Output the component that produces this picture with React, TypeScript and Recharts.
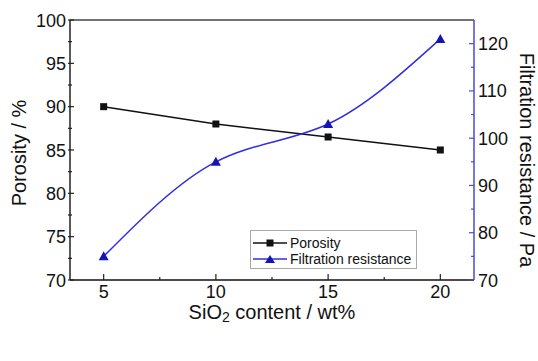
import React from 'react';
import { LineChart, Line, XAxis, YAxis, ReferenceLine, Legend } from 'recharts';

const sio2 = [5, 10, 15, 20];
const porosity = [90, 88, 86.5, 85];
const resistance = [75, 95, 103, 121];
const xTicks = [5, 7.5, 10, 12.5, 15, 17.5, 20];
const leftTicks = [70, 72.5, 75, 77.5, 80, 82.5, 85, 87.5, 90, 92.5, 95, 97.5, 100];
const rightTicks = [70, 75, 80, 85, 90, 95, 100, 105, 110, 115, 120];

const data = sio2.map((x, i) => ({ x, porosity: porosity[i], resistance: resistance[i] }));

const FONT = 'Liberation Sans, Arial, sans-serif';
const BLUE_AXIS = '#4a4ad2';
const BLUE_LINE = '#2f2fe0';
const BLUE_MARK = '#1414b4';

const XTick = (props: any) => {
  const { x, y, payload } = props;
  const v = payload.value;
  const major = Number.isInteger(v);
  return (
    <g>
      <line x1={x} x2={x} y1={y} y2={y - (major ? 6 : 3)} stroke="#222" strokeWidth={1.2} />
      {major && (
        <text x={x} y={y + 18} textAnchor="middle" fontFamily={FONT} fontSize={18} fill="#111">
          {v}
        </text>
      )}
    </g>
  );
};

const LeftTick = (props: any) => {
  const { x, y, payload } = props;
  const v = payload.value;
  const major = v % 5 === 0;
  return (
    <g>
      <line x1={x - 2} x2={x + (major ? 4 : 2)} y1={y} y2={y} stroke="#222" strokeWidth={1.2} />
      {major && (
        <text x={x - 4} y={y + 6.5} textAnchor="end" fontFamily={FONT} fontSize={18} fill="#111">
          {v}
        </text>
      )}
    </g>
  );
};

const RightTick = (props: any) => {
  const { x, y, payload } = props;
  const v = payload.value;
  const major = v % 10 === 0;
  return (
    <g>
      <line x1={x - (major ? 5 : 3)} x2={x} y1={y} y2={y} stroke={BLUE_AXIS} strokeWidth={1.2} />
      {major && (
        <text x={x + 4} y={y + 6.5} textAnchor="start" fontFamily={FONT} fontSize={18} fill="#111">
          {v}
        </text>
      )}
    </g>
  );
};

const SquareDot = (props: any) => {
  const { cx, cy } = props;
  if (cx == null || cy == null) return null;
  return <rect x={cx - 3.5} y={cy - 3.5} width={7} height={7} fill="#111" />;
};

const TriDot = (props: any) => {
  const { cx, cy } = props;
  if (cx == null || cy == null) return null;
  return <path d={`M${cx},${cy - 5} L${cx + 5},${cy + 4} L${cx - 5},${cy + 4} Z`} fill={BLUE_MARK} />;
};

const LegendBox = () => (
  <svg width={167} height={39} style={{ display: 'block' }}>
    <rect x={0.5} y={0.5} width={166} height={38} fill="#fff" stroke="#aaa" strokeWidth={1} />
    <line x1={3} x2={37} y1={13} y2={13} stroke="#111" strokeWidth={1.5} />
    <rect x={16.5} y={9.5} width={7} height={7} fill="#111" />
    <text x={40} y={18} fontFamily={FONT} fontSize={14} fill="#111">Porosity</text>
    <line x1={3} x2={37} y1={29} y2={29} stroke={BLUE_LINE} strokeWidth={1.5} />
    <path d="M20,25 L25,33 L15,33 Z" fill={BLUE_MARK} />
    <text x={40} y={34} fontFamily={FONT} fontSize={14} fill="#111">Filtration resistance</text>
  </svg>
);

const LeftTitle = (props: any) => {
  const vb = props.viewBox;
  const cx = vb.x + 19;
  const cy = vb.y + vb.height / 2 + 3;
  return (
    <text x={cx} y={cy} transform={`rotate(-90, ${cx}, ${cy})`} textAnchor="middle" dominantBaseline="central" fontFamily={FONT} fontSize={20} fill="#111">
      Porosity / %
    </text>
  );
};

const RightTitle = (props: any) => {
  const vb = props.viewBox;
  const cx = vb.x + 53;
  const cy = vb.y + vb.height / 2 + 10;
  return (
    <text x={cx} y={cy} transform={`rotate(90, ${cx}, ${cy})`} textAnchor="middle" dominantBaseline="central" fontFamily={FONT} fontSize={20} fill="#111">
      Filtration resistance / Pa
    </text>
  );
};

const XTitle = (props: any) => {
  const vb = props.viewBox;
  const cx = vb.x + vb.width / 2;
  const cy = vb.y + 39;
  return (
    <text x={cx} y={cy} textAnchor="middle" fontFamily={FONT} fontSize={20} fill="#111">
      SiO<tspan fontSize={14} dy={3}>2</tspan><tspan dy={-3}> content / wt%</tspan>
    </text>
  );
};

export default function App() {
  return (
    <div style={{ position: 'fixed', left: 0, top: 0, width: 538, height: 361, background: '#fff' }}>
      <LineChart width={538} height={361} data={data} margin={{ top: 20, right: 0, bottom: 0, left: 0 }}>
        <XAxis
          dataKey="x"
          type="number"
          domain={[3.5, 21.5]}
          ticks={xTicks}
          interval={0}
          tickSize={0}
          tickMargin={0}
          tickLine={false}
          tick={<XTick />}
          height={42}
          axisLine={{ stroke: '#111', strokeWidth: 1.5 }}
          label={<XTitle />}
        />
        <YAxis
          yAxisId="left"
          orientation="left"
          domain={[70, 100]}
          ticks={leftTicks}
          interval={0}
          tickSize={0}
          tickMargin={0}
          tickLine={false}
          tick={<LeftTick />}
          width={70}
          axisLine={{ stroke: '#222', strokeWidth: 1.5 }}
          label={<LeftTitle />}
        />
        <YAxis
          yAxisId="right"
          orientation="right"
          domain={[70, 125]}
          ticks={rightTicks}
          interval={0}
          tickSize={0}
          tickMargin={0}
          tickLine={false}
          tick={<RightTick />}
          width={64}
          axisLine={{ stroke: BLUE_AXIS, strokeWidth: 1.5 }}
          label={<RightTitle />}
        />
        <ReferenceLine yAxisId="left" y={100} stroke="#444" strokeWidth={1.5} />
        <Line
          yAxisId="left"
          dataKey="porosity"
          type="linear"
          stroke="#111"
          strokeWidth={1.5}
          dot={<SquareDot />}
          activeDot={false}
          isAnimationActive={false}
        />
        <Line
          yAxisId="right"
          dataKey="resistance"
          type="natural"
          stroke={BLUE_LINE}
          strokeWidth={1.5}
          dot={<TriDot />}
          activeDot={false}
          isAnimationActive={false}
        />
        <Legend
          content={<LegendBox />}
          wrapperStyle={{ position: 'absolute', left: 250, top: 230, width: 167, height: 39 }}
        />
      </LineChart>
    </div>
  );
}
